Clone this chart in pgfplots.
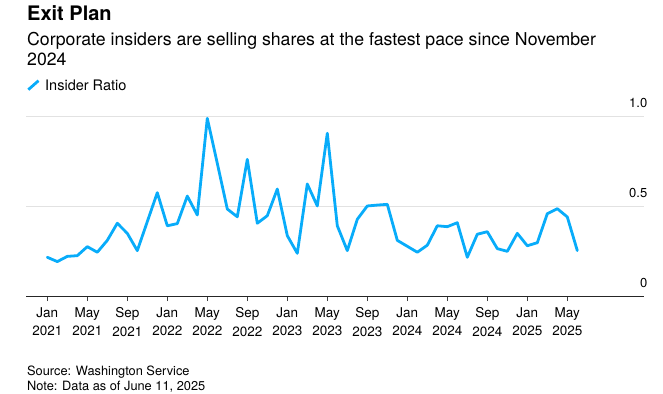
\documentclass[border=0pt]{standalone}
\usepackage{pgfplots}
\pgfplotsset{compat=1.18}
\usepackage{fontspec}
\setmainfont{TeX Gyre Heros}
\definecolor{lineblue}{RGB}{8,172,250}
\definecolor{gridgray}{RGB}{226,226,226}
\pgfplotstableread{
m v
0 0.219
1 0.195
2 0.224
3 0.228
4 0.278
5 0.247
6 0.313
7 0.408
8 0.352
9 0.256
10 0.417
11 0.578
12 0.394
13 0.406
14 0.559
15 0.454
16 0.991
17 0.741
18 0.487
19 0.444
20 0.763
21 0.408
22 0.450
23 0.598
24 0.339
25 0.241
26 0.626
27 0.504
28 0.908
29 0.394
30 0.256
31 0.430
32 0.504
33 0.509
34 0.513
35 0.313
36 0.280
37 0.247
38 0.286
39 0.394
40 0.389
41 0.411
42 0.219
43 0.347
44 0.361
45 0.267
46 0.252
47 0.352
48 0.283
49 0.300
50 0.461
51 0.489
52 0.443
53 0.256
}\ratio
\begin{document}
\begin{tikzpicture}
\begin{axis}[
  name=ax,
  at={(0,0)}, anchor=south west,
  scale only axis,
  width=618bp, height=180bp,
  xmin=-2.13, xmax=59.67,
  ymin=0, ymax=1,
  clip=false,
  axis x line*=bottom,
  axis y line*=right,
  y axis line style={draw=none},
  x axis line style={draw=black!85, line width=0.9bp},
  xtick={0,4,...,52},
  xticklabels={{Jan\\2021},{May\\2021},{Sep\\2021},{Jan\\2022},{May\\2022},{Sep\\2022},{Jan\\2023},{May\\2023},{Sep\\2023},{Jan\\2024},{May\\2024},{Sep\\2024},{Jan\\2025},{May\\2025}},
  xticklabel style={align=center, font=\fontsize{13.5bp}{18.3bp}\selectfont, anchor=north, yshift=-3bp},
  tick align=outside,
  xtick style={draw=black!75, line width=0.8bp},
  major tick length=4.5bp,
  ytick={0,0.5,1},
  yticklabels={0,0.5,1.0},
  ytick style={draw=none},
  yticklabel style={font=\fontsize{13bp}{16bp}\selectfont, anchor=base east, inner xsep=0pt, xshift=-1bp, yshift=9bp},
  ymajorgrids,
  grid style={draw=gridgray, line width=1bp},
]
\addplot[draw=lineblue, line width=2.8bp, line join=round, line cap=round] table[x=m, y=v] {\ratio};
\end{axis}
\node[anchor=base west, inner sep=0pt, font=\fontsize{20bp}{24bp}\selectfont\bfseries] at ([shift={(1bp,276bp)}]ax.south west) {Exit Plan};
\node[anchor=base west, inner sep=0pt, font=\fontsize{17.7bp}{20bp}\selectfont] at ([shift={(1bp,251bp)}]ax.south west) {Corporate insiders are selling shares at the fastest pace since November};
\node[anchor=base west, inner sep=0pt, font=\fontsize{17.7bp}{20bp}\selectfont] at ([shift={(1bp,230.7bp)}]ax.south west) {2024};
\draw[lineblue, line width=2.8bp] ([shift={(2.3bp,207bp)}]ax.south west) -- ([shift={(12.5bp,216bp)}]ax.south west);
\node[anchor=base west, inner sep=0pt, font=\fontsize{14.5bp}{17bp}\selectfont] at ([shift={(19bp,206bp)}]ax.south west) {Insider Ratio};
\node[anchor=base west, inner sep=0pt, font=\fontsize{12.8bp}{15bp}\selectfont] at ([shift={(1bp,-78.3bp)}]ax.south west) {Source: Washington Service};
\node[anchor=base west, inner sep=0pt, font=\fontsize{12.8bp}{15bp}\selectfont] at ([shift={(1bp,-93.3bp)}]ax.south west) {Note: Data as of June 11, 2025};
\pgfresetboundingbox
\useasboundingbox ([shift={(-26bp,-97.3bp)}]ax.south west) rectangle ([shift={(637bp,296.7bp)}]ax.south west);
\end{tikzpicture}
\end{document}
